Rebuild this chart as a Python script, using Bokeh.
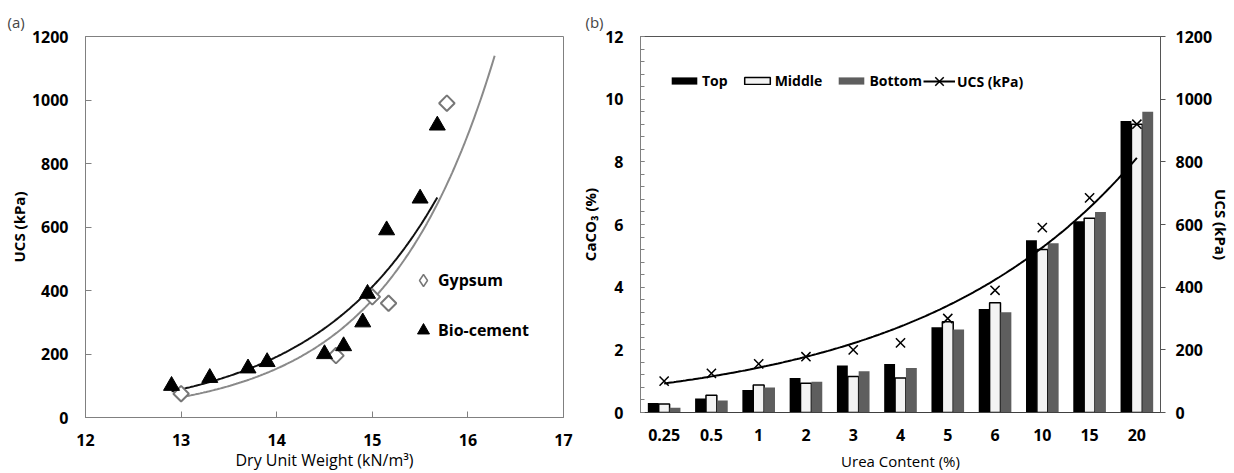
import numpy as np
from bokeh.plotting import figure
from bokeh.models import (Range1d, FactorRange, LinearAxis, FixedTicker, SingleIntervalTicker,
                          Legend, LegendItem, ColumnDataSource)
from bokeh.transform import dodge
from bokeh.layouts import row
from bokeh.embed import file_html
from bokeh.resources import INLINE

# ---------------- Panel (a) data ----------------
gyp_weight = [13.0, 14.62, 15.0, 15.17, 15.78]
gyp_ucs = [75, 195, 380, 360, 990]
bio_weight = [12.9, 13.3, 13.7, 13.9, 14.5, 14.7, 14.9, 14.95, 15.15, 15.5, 15.68]
bio_ucs = [100, 125, 155, 175, 200, 225, 300, 390, 590, 690, 920]
gyp_forward = 0.5          # trendline forecast beyond the last gypsum point
a_xticks = [12, 13, 14, 15, 16, 17]
a_yticks = [0, 200, 400, 600, 800, 1000, 1200]

# ---------------- Panel (b) data ----------------
urea = ["0.25", "0.5", "1", "2", "3", "4", "5", "6", "10", "15", "20"]
caco3_top = [0.30, 0.45, 0.72, 1.10, 1.50, 1.55, 2.72, 3.30, 5.50, 6.10, 9.30]
caco3_middle = [0.27, 0.55, 0.88, 0.93, 1.15, 1.10, 2.90, 3.50, 5.20, 6.20, 9.20]
caco3_bottom = [0.15, 0.38, 0.80, 0.98, 1.32, 1.42, 2.65, 3.20, 5.40, 6.40, 9.60]
ucs_b = [100, 125, 155, 178, 200, 222, 300, 390, 590, 685, 920]
b_ucs_ticks = [0, 200, 400, 600, 800, 1000, 1200]

FONT = "Open Sans"


def expfit(x, y):
    b, lna = np.polyfit(np.asarray(x, float), np.log(np.asarray(y, float)), 1)
    return np.exp(lna), b


def style_axis(ax, color="#808080"):
    ax.axis_line_color = color
    ax.major_tick_line_color = color
    ax.minor_tick_line_color = color
    ax.major_label_text_font = FONT
    ax.major_label_text_font_size = "16px"
    ax.major_label_text_font_style = "bold"
    ax.major_label_text_color = "black"
    ax.axis_label_text_font = FONT
    ax.axis_label_text_color = "black"


def plain_legend(items, loc, gw, gh, size, **kw):
    return Legend(items=items, location=loc, glyph_width=gw, glyph_height=gh,
                  padding=0, margin=0, border_line_color=None, background_fill_alpha=0,
                  inactive_fill_alpha=0,
                  label_text_font=FONT, label_text_font_size=size, label_text_font_style="bold",
                  label_text_color="black", **kw)


# ================= Panel (a) =================
p1 = figure(width=577, height=473, x_range=Range1d(12, 17), y_range=Range1d(0, 1200),
            output_backend="svg", toolbar_location=None, frame_align=False,
            min_border_left=85, min_border_right=14, min_border_top=36, min_border_bottom=55)
p1.title.text = "(a)"
p1.title.text_font = FONT
p1.title.text_font_size = "15px"
p1.title.text_font_style = "normal"
p1.title.align = "left"
p1.title.offset = -78
p1.title.standoff = 9
p1.xgrid.visible = False
p1.ygrid.visible = False
p1.outline_line_color = "#808080"
p1.outline_line_width = 1

for ax in (p1.xaxis[0], p1.yaxis[0]):
    style_axis(ax)
    ax.major_tick_in = 6
    ax.major_tick_out = 0
    ax.minor_tick_in = 0
    ax.minor_tick_out = 0
p1.xaxis.ticker = FixedTicker(ticks=a_xticks)
p1.yaxis.ticker = FixedTicker(ticks=a_yticks)
p1.xaxis.axis_label = "Dry Unit Weight (kN/m³)"
p1.xaxis.axis_label_text_font_size = "16px"
p1.xaxis.axis_label_text_font_style = "normal"
p1.xaxis.major_label_standoff = 16
p1.xaxis.axis_label_standoff = 0
p1.yaxis.axis_label = "UCS (kPa)"
p1.yaxis.axis_label_text_font_size = "15px"
p1.yaxis.axis_label_text_font_style = "bold"
p1.yaxis.major_label_standoff = 17
p1.yaxis.axis_label_standoff = 0

ag, bg = expfit(gyp_weight, gyp_ucs)
xg = np.linspace(min(gyp_weight), max(gyp_weight) + gyp_forward, 200)
p1.line(xg, ag * np.exp(bg * xg), line_color="#8a8a8a", line_width=2)
ab, bb = expfit(bio_weight, bio_ucs)
xb = np.linspace(min(bio_weight), max(bio_weight), 200)
p1.line(xb, ab * np.exp(bb * xb), line_color="#111111", line_width=2)

g = p1.scatter(gyp_weight, gyp_ucs, marker="square", angle=np.pi / 4, size=11,
               fill_color="white", line_color="#777777", line_width=2)
t = p1.scatter(bio_weight, bio_ucs, marker="triangle", size=16,
               fill_color="black", line_color="black")
# hidden twin of the gypsum series, used only for its legend symbol (a diamond)
g_leg = p1.scatter(gyp_weight, gyp_ucs, marker="diamond", fill_color="white",
                   line_color="#777777", line_width=1.5, visible=False)

p1.add_layout(plain_legend([LegendItem(label="Gypsum", renderers=[g_leg])], (323, 122),
                           30, 30, "16px", label_standoff=0))
p1.add_layout(plain_legend([LegendItem(label="Bio-cement", renderers=[t])], (323, 72),
                           30, 30, "16px", label_standoff=0))

# ================= Panel (b) =================
p2 = figure(width=657, height=473, x_range=FactorRange(factors=urea), y_range=Range1d(0, 12),
            output_backend="svg", toolbar_location=None, frame_align=False,
            min_border_left=63, min_border_right=67, min_border_top=36, min_border_bottom=61)
p2.extra_y_ranges = {"ucs": Range1d(0, 1200)}
p2.title.text = "(b)"
p2.title.text_font = FONT
p2.title.text_font_size = "15px"
p2.title.text_font_style = "normal"
p2.title.align = "left"
p2.title.offset = -55
p2.title.standoff = 9
p2.xgrid.visible = False
p2.ygrid.visible = False
p2.outline_line_color = "#555555"
p2.outline_line_width = 1

src = ColumnDataSource(dict(urea=urea, top=caco3_top, middle=caco3_middle,
                            bottom=caco3_bottom, ucs=ucs_b))
vt = p2.vbar(x=dodge("urea", -0.23, range=p2.x_range), top="top", width=0.23, source=src,
             fill_color="black", line_color=None)
vm = p2.vbar(x=dodge("urea", 0.0, range=p2.x_range), top="middle", width=0.23, source=src,
             fill_color="#f3f3f3", line_color="black", line_width=1.5)
vb = p2.vbar(x=dodge("urea", 0.23, range=p2.x_range), top="bottom", width=0.23, source=src,
             fill_color="#5e5e5e", line_color=None)

idx = np.arange(len(urea))
au, bu = expfit(idx, ucs_b)
xi = np.linspace(0, len(urea) - 1, 200)
tl = p2.line(xi + 0.5, au * np.exp(bu * xi), y_range_name="ucs", line_color="black", line_width=2)
xm = p2.scatter("urea", "ucs", source=src, y_range_name="ucs", marker="x", size=13,
                line_color="black", line_width=1.5)

ly = p2.yaxis[0]
style_axis(ly)
ly.ticker = SingleIntervalTicker(interval=2, num_minor_ticks=5)
ly.major_tick_in = 4
ly.major_tick_out = 0
ly.minor_tick_in = 4
ly.minor_tick_out = 0
ly.major_label_standoff = 17
ly.axis_label = "CaCO₃ (%)"
ly.axis_label_text_font_size = "15px"
ly.axis_label_text_font_style = "bold"
ly.axis_label_standoff = 2

lx = p2.xaxis[0]
style_axis(lx, "#404040")
lx.major_tick_in = 0
lx.major_tick_out = 0
lx.major_label_standoff = 16
lx.axis_label = "Urea Content (%)"
lx.axis_label_text_font_size = "15px"
lx.axis_label_text_font_style = "normal"
lx.axis_label_standoff = 7

ry = LinearAxis(y_range_name="ucs", ticker=FixedTicker(ticks=b_ucs_ticks))
style_axis(ry, "#555555")
ry.major_tick_in = 0
ry.major_tick_out = 5
ry.minor_tick_in = 0
ry.minor_tick_out = 0
ry.major_label_standoff = 10
ry.axis_label = "UCS (kPa)"
ry.axis_label_text_font_size = "15px"
ry.axis_label_text_font_style = "bold"
ry.axis_label_standoff = -4
p2.add_layout(ry, "right")

p2.add_layout(plain_legend([LegendItem(label="Top", renderers=[vt]),
                            LegendItem(label="Middle", renderers=[vm]),
                            LegendItem(label="Bottom", renderers=[vb])],
                           (28, 322), 32, 9, "14px", orientation="horizontal",
                           label_height=9, label_standoff=2, spacing=13))
p2.add_layout(plain_legend([LegendItem(label="UCS (kPa)", renderers=[tl, xm])],
                           (283, 316), 32, 30, "14px", orientation="horizontal",
                           label_standoff=2))

layout = row(p1, p2)
open("out.html", "w").write(file_html(layout, INLINE))
